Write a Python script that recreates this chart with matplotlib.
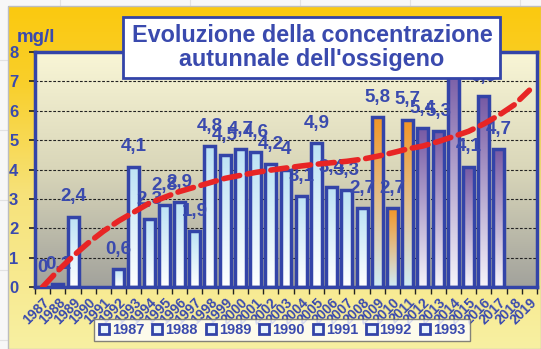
import numpy as np
import matplotlib
matplotlib.use("Agg")
import matplotlib.pyplot as plt
from matplotlib.patches import Rectangle, Patch
from matplotlib.colors import LinearSegmentedColormap

# --- data -------------------------------------------------------------
years = list(range(1987, 2020))
values = [0.0, 0.1, 2.4, None, None, 0.6, 4.1, 2.3, 2.8, 2.9, 1.9,
          4.8, 4.5, 4.7, 4.6, 4.2, 4.0, 3.1, 4.9, 3.4, 3.3, 2.7,
          5.8, 2.7, 5.7, 5.4, 5.3, 7.5, 4.1, 6.5, 4.7, None, None]
value_labels = ["0", "0,1", "2,4", "", "", "0,6", "4,1", "2,3", "2,8", "2,9", "1,9",
                "4,8", "4,5", "4,7", "4,6", "4,2", "4", "3,1", "4,9", "3,4", "3,3", "2,7",
                "5,8", "2,7", "5,7", "5,4", "5,3", "7,5", "4,1", "6,5", "4,7", "", ""]
trend = [0.0, 0.55, 1.05, 1.5, 1.9, 2.25, 2.55, 2.85, 3.05, 3.25, 3.4,
         3.55, 3.7, 3.8, 3.9, 3.98, 4.05, 4.12, 4.18, 4.23, 4.28, 4.35,
         4.45, 4.57, 4.7, 4.8, 4.95, 5.12, 5.3, 5.55, 5.85, 6.2, 6.7]
legend_years = ["1987", "1988", "1989", "1990", "1991", "1992", "1993"]
title = "Evoluzione della concentrazione\nautunnale dell'ossigeno"
unit = "mg/l"

BLUE = "#3344A8"
TXT = "#3A4AAE"
FONT = ["Liberation Sans", "DejaVu Sans"]
plt.rcParams["font.family"] = FONT
plt.rcParams["font.weight"] = "bold"

W, H = 541, 349
fig = plt.figure(figsize=(W / 100, H / 100), dpi=100)

# --- outer background (sheet + gradient chart area) -------------------
bg = fig.add_axes([0, 0, 1, 1])
bg.set_xlim(0, W)
bg.set_ylim(H, 0)
bg.axis("off")
bg.add_patch(Rectangle((0, 0), W, H, color="#F7F7F7", zorder=0))
for gx in [60, 190, 300, 410, 520]:
    bg.plot([gx, gx], [0, 6], color="#E2E2E2", lw=0.8, zorder=1)
for gy in [60, 130, 200, 270, 340]:
    bg.plot([0, 7], [gy, gy], color="#E2E2E2", lw=0.8, zorder=1)
gold = LinearSegmentedColormap.from_list(
    "gold", [(0.0, "#FBC90F"), (0.22, "#F9CF2A"), (0.55, "#F6E27A"), (1.0, "#F8F0A2")])
grad = np.linspace(0, 1, 256).reshape(-1, 1)
bg.imshow(grad, cmap=gold, extent=[8, W, H, 6], aspect="auto", zorder=2)
bg.add_patch(Rectangle((8, 6), W - 8, H - 6, fill=False, ec="#BDBDBD", lw=1.0, zorder=3))

# --- plot area --------------------------------------------------------
ax = fig.add_axes([35 / W, 1 - 287 / H, (537 - 35) / W, (287 - 52) / H])
n = len(years)
ax.set_xlim(-0.5, n - 0.5)
ax.set_ylim(0, 8)

# cream at the top fading to grey at the bottom
plot_bg = LinearSegmentedColormap.from_list("pbg", ["#F9F6D6", "#D9D6B9", "#A2A29C"])
ax.imshow(grad, cmap=plot_bg, extent=[-0.5, n - 0.5, 0, 8],
          aspect="auto", zorder=0)

for yv in range(1, 8):
    ax.axhline(yv, color="#222222", lw=0.8, ls=(0, (2.5, 1.5)), zorder=1)

def bar_colors(year):
    if 2009 <= year <= 2011:
        return "#F39524", "#CFEAF6"
    if year >= 2012:
        return "#7659A4", "#F6F4FA"
    return "#BCE2F5", "#FFFFFF"

bw = 0.72
for i, (yr, v, lab) in enumerate(zip(years, values, value_labels)):
    if v is None:
        continue
    top_c, bot_c = bar_colors(yr)
    cmap = LinearSegmentedColormap.from_list("b%d" % i, [bot_c, top_c])
    edge = Rectangle((i - bw / 2, 0), bw, v, fill=False, ec=BLUE, lw=2.5, zorder=3)
    ax.add_patch(edge)
    if v > 0:
        clip = Rectangle((i - bw / 2, 0), bw, v, transform=ax.transData)
        im = ax.imshow(grad[::-1], cmap=cmap, extent=[i - bw / 2, i + bw / 2, 0, v],
                       aspect="auto", zorder=2)
        im.set_clip_path(clip)
    ax.annotate(lab, (i, v), xytext=(0, 8), textcoords="offset points",
                ha="center", va="bottom", fontsize=13.5, color=TXT,
                fontweight="bold", zorder=4)

ax.set_xlim(-0.5, n - 0.5)
ax.set_ylim(0, 8)

# trend line
ax.plot(range(n), trend, color="#E82525", lw=4.0, ls=(0, (2.9, 1.4)),
        dash_capstyle="round", zorder=5)

# axes styling
for s in ax.spines.values():
    s.set_color(BLUE)
    s.set_linewidth(2.5)
ax.set_yticks(range(0, 9))
ax.set_yticklabels([str(v) for v in range(0, 9)], fontsize=12, color=TXT,
                   fontweight="bold")
ax.tick_params(axis="y", length=4, width=1.2, color="#222222", pad=8)
ax.set_xticks(np.arange(-0.5, n, 1.0), minor=False)
ax.set_xticklabels([])
ax.tick_params(axis="x", length=5, width=1.0, color="#222222")
ax.set_xticks(range(n), minor=True)
ax.set_xticklabels([str(y) for y in years], minor=True, rotation=45,
                   ha="right", va="top", rotation_mode="anchor",
                   fontsize=10, color=TXT, fontweight="bold")
ax.tick_params(axis="x", which="minor", length=0, pad=6)

# unit label
fig.text(17 / W, 1 - 38 / H, unit, fontsize=13.5, color=TXT, fontweight="bold",
         ha="left", va="center", zorder=6)

# title box
fig.patches.append(Rectangle((123 / W, 1 - 78 / H), (500 - 123) / W, (78 - 17) / H,
                             transform=fig.transFigure, fc="white", ec=BLUE,
                             lw=2.0, zorder=6))
fig.text(312 / W, 1 - 47.5 / H, title, fontsize=16.8, color=TXT, fontweight="bold",
         ha="center", va="center", linespacing=1.1, zorder=7)

# legend
handles = [Patch(facecolor="#EAF5FC", edgecolor=BLUE, linewidth=2.0) for _ in legend_years]
leg = fig.legend(handles, legend_years, loc="center", ncol=7,
                 bbox_to_anchor=(282 / W, 1 - 330 / H),
                 frameon=True, fancybox=False, fontsize=10.5,
                 handlelength=0.7, handleheight=0.7, handletextpad=0.2,
                 columnspacing=0.55, borderpad=0.3, labelcolor=TXT)
leg.get_frame().set_edgecolor("#666666")
leg.get_frame().set_linewidth(1.0)
leg.set_zorder(8)
for t in leg.get_texts():
    t.set_fontweight("bold")

fig.savefig("out.png", dpi=100)
